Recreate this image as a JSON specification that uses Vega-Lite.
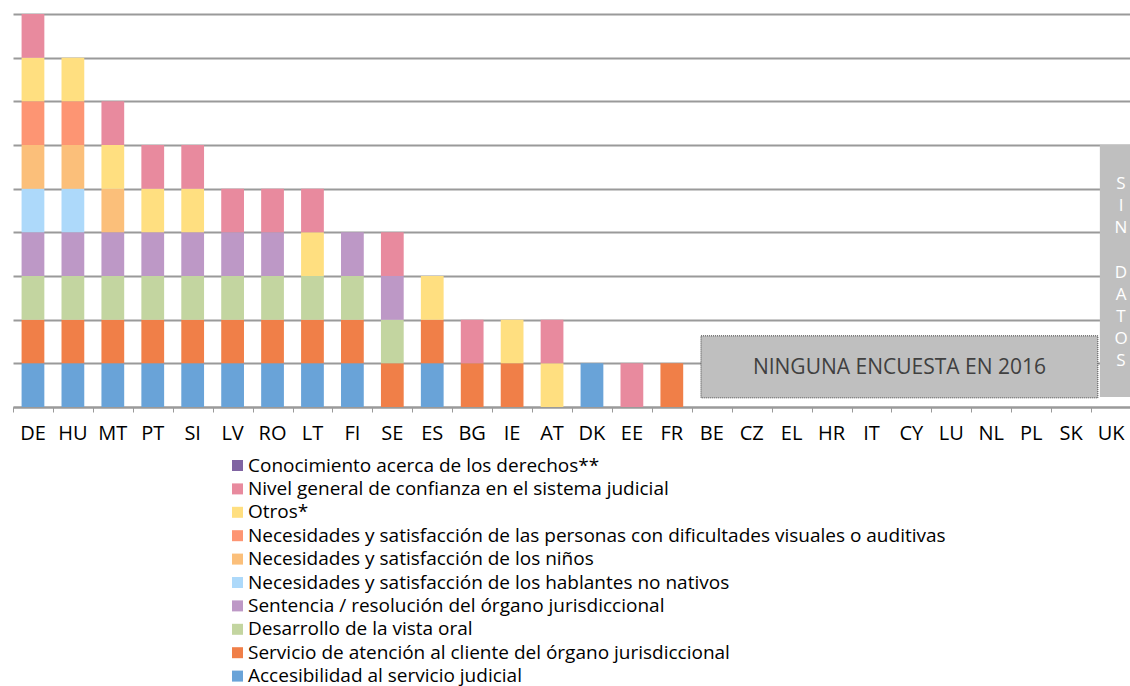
{
  "$schema": "https://vega.github.io/schema/vega-lite/v6.json",
  "width": 1118,
  "height": 393,
  "padding": {"left": 12, "top": 14, "right": 0, "bottom": 0},
  "background": "white",
  "config": {"view": {"stroke": null}, "font": "Open Sans"},
  "datasets": {
    "cats": [
      {"code": "A", "name": "Accesibilidad al servicio judicial", "k": 1},
      {"code": "S", "name": "Servicio de atención al cliente del órgano jurisdiccional", "k": 2},
      {"code": "D", "name": "Desarrollo de la vista oral", "k": 3},
      {"code": "T", "name": "Sentencia / resolución del órgano jurisdiccional", "k": 4},
      {"code": "H", "name": "Necesidades y satisfacción de los hablantes no nativos", "k": 5},
      {"code": "N", "name": "Necesidades y satisfacción de los niños", "k": 6},
      {"code": "V", "name": "Necesidades y satisfacción de las personas con dificultades visuales o auditivas", "k": 7},
      {"code": "O", "name": "Otros*", "k": 8},
      {"code": "G", "name": "Nivel general de confianza en el sistema judicial", "k": 9},
      {"code": "C", "name": "Conocimiento acerca de los derechos**", "k": 10}
    ],
    "bars": [
      {"c": "DE", "cat": "A", "v": 1}, {"c": "DE", "cat": "S", "v": 1}, {"c": "DE", "cat": "D", "v": 1}, {"c": "DE", "cat": "T", "v": 1}, {"c": "DE", "cat": "H", "v": 1}, {"c": "DE", "cat": "N", "v": 1}, {"c": "DE", "cat": "V", "v": 1}, {"c": "DE", "cat": "O", "v": 1}, {"c": "DE", "cat": "G", "v": 1},
      {"c": "HU", "cat": "A", "v": 1}, {"c": "HU", "cat": "S", "v": 1}, {"c": "HU", "cat": "D", "v": 1}, {"c": "HU", "cat": "T", "v": 1}, {"c": "HU", "cat": "H", "v": 1}, {"c": "HU", "cat": "N", "v": 1}, {"c": "HU", "cat": "V", "v": 1}, {"c": "HU", "cat": "O", "v": 1},
      {"c": "MT", "cat": "A", "v": 1}, {"c": "MT", "cat": "S", "v": 1}, {"c": "MT", "cat": "D", "v": 1}, {"c": "MT", "cat": "T", "v": 1}, {"c": "MT", "cat": "N", "v": 1}, {"c": "MT", "cat": "O", "v": 1}, {"c": "MT", "cat": "G", "v": 1},
      {"c": "PT", "cat": "A", "v": 1}, {"c": "PT", "cat": "S", "v": 1}, {"c": "PT", "cat": "D", "v": 1}, {"c": "PT", "cat": "T", "v": 1}, {"c": "PT", "cat": "O", "v": 1}, {"c": "PT", "cat": "G", "v": 1},
      {"c": "SI", "cat": "A", "v": 1}, {"c": "SI", "cat": "S", "v": 1}, {"c": "SI", "cat": "D", "v": 1}, {"c": "SI", "cat": "T", "v": 1}, {"c": "SI", "cat": "O", "v": 1}, {"c": "SI", "cat": "G", "v": 1},
      {"c": "LV", "cat": "A", "v": 1}, {"c": "LV", "cat": "S", "v": 1}, {"c": "LV", "cat": "D", "v": 1}, {"c": "LV", "cat": "T", "v": 1}, {"c": "LV", "cat": "G", "v": 1},
      {"c": "RO", "cat": "A", "v": 1}, {"c": "RO", "cat": "S", "v": 1}, {"c": "RO", "cat": "D", "v": 1}, {"c": "RO", "cat": "T", "v": 1}, {"c": "RO", "cat": "G", "v": 1},
      {"c": "LT", "cat": "A", "v": 1}, {"c": "LT", "cat": "S", "v": 1}, {"c": "LT", "cat": "D", "v": 1}, {"c": "LT", "cat": "O", "v": 1}, {"c": "LT", "cat": "G", "v": 1},
      {"c": "FI", "cat": "A", "v": 1}, {"c": "FI", "cat": "S", "v": 1}, {"c": "FI", "cat": "D", "v": 1}, {"c": "FI", "cat": "T", "v": 1},
      {"c": "SE", "cat": "S", "v": 1}, {"c": "SE", "cat": "D", "v": 1}, {"c": "SE", "cat": "T", "v": 1}, {"c": "SE", "cat": "G", "v": 1},
      {"c": "ES", "cat": "A", "v": 1}, {"c": "ES", "cat": "S", "v": 1}, {"c": "ES", "cat": "O", "v": 1},
      {"c": "BG", "cat": "S", "v": 1}, {"c": "BG", "cat": "G", "v": 1},
      {"c": "IE", "cat": "S", "v": 1}, {"c": "IE", "cat": "O", "v": 1},
      {"c": "AT", "cat": "O", "v": 1}, {"c": "AT", "cat": "G", "v": 1},
      {"c": "DK", "cat": "A", "v": 1},
      {"c": "EE", "cat": "G", "v": 1},
      {"c": "FR", "cat": "S", "v": 1}
    ],
    "nosurvey": [
      {"x1": 17.23, "x2": 27.17, "y1": 0.21, "y2": 1.63, "xm": 22.2, "ym": 0.92, "label": "NINGUNA ENCUESTA EN 2016"}
    ],
    "nodata": [
      {"x1": 27.22, "x2": 28, "y1": 0.23, "y2": 6}
    ],
    "nodatatext": [
      {"xm": 27.75, "ym": 5.11, "label": "S\nI\nN"},
      {"xm": 27.75, "ym": 3.075, "label": "D\nA\nT\nO\nS"}
    ]
  },
  "resolve": {"scale": {"x": "independent"}, "axis": {"x": "independent"}},
  "layer": [
    {
      "data": {"name": "bars"},
      "transform": [
        {"lookup": "cat", "from": {"data": {"name": "cats"}, "key": "code", "fields": ["name", "k"]}}
      ],
      "mark": {"type": "bar"},
      "encoding": {
        "x": {
          "field": "c", "type": "nominal",
          "scale": {
            "domain": ["DE","HU","MT","PT","SI","LV","RO","LT","FI","SE","ES","BG","IE","AT","DK","EE","FR","BE","CZ","EL","HR","IT","CY","LU","NL","PL","SK","UK"],
            "paddingInner": 0.43, "paddingOuter": 0.215
          },
          "axis": {"title": null, "orient": "bottom", "ticks": false, "domain": false, "labelAngle": 0, "labelFontSize": 20, "labelColor": "#000000", "labelPadding": 16, "labelFont": "Open Sans"}
        },
        "y": {
          "field": "v", "type": "quantitative", "aggregate": "sum", "stack": "zero",
          "scale": {"domain": [0, 9], "nice": false},
          "axis": {"title": null, "values": [0,1,2,3,4,5,6,7,8,9], "labels": false, "ticks": false, "domain": false, "grid": true, "gridColor": "#9a9a9a", "gridWidth": 2}
        },
        "color": {
          "field": "name", "type": "nominal",
          "scale": {
            "domain": [
              "Conocimiento acerca de los derechos**",
              "Nivel general de confianza en el sistema judicial",
              "Otros*",
              "Necesidades y satisfacción de las personas con dificultades visuales o auditivas",
              "Necesidades y satisfacción de los niños",
              "Necesidades y satisfacción de los hablantes no nativos",
              "Sentencia / resolución del órgano jurisdiccional",
              "Desarrollo de la vista oral",
              "Servicio de atención al cliente del órgano jurisdiccional",
              "Accesibilidad al servicio judicial"
            ],
            "range": ["#8064A2", "#E88A9E", "#FFDF80", "#FD9573", "#FBBF7A", "#ADD9FA", "#BD98C6", "#C3D5A0", "#F07F48", "#69A3D8"]
          },
          "legend": {
            "title": null, "orient": "none", "legendX": 215, "legendY": 442, "direction": "vertical", "columns": 1,
            "symbolType": "square", "symbolSize": 121, "symbolStrokeWidth": 0,
            "labelFontSize": 19, "labelFont": "Open Sans", "labelColor": "#000000", "labelOffset": 1, "rowPadding": 3.4, "labelLimit": 1000
          }
        },
        "order": {"field": "k", "type": "quantitative", "sort": "ascending"}
      }
    },
    {
      "data": {"name": "nosurvey"},
      "mark": {"type": "rect", "fill": "#BFBFBF", "stroke": "#404040", "strokeWidth": 1, "strokeDash": [1, 1]},
      "encoding": {
        "x": {"field": "x1", "type": "quantitative", "scale": {"domain": [0, 28], "nice": false, "zero": false},
          "axis": {"title": null, "orient": "bottom", "values": [0,1,2,3,4,5,6,7,8,9,10,11,12,13,14,15,16,17,18,19,20,21,22,23,24,25,26,27,28], "labels": false, "ticks": true, "tickSize": 5, "tickColor": "#9a9a9a", "tickWidth": 1, "domain": true, "domainColor": "#9a9a9a", "domainWidth": 2, "grid": false}},
        "x2": {"field": "x2"},
        "y": {"field": "y1", "type": "quantitative"},
        "y2": {"field": "y2"}
      }
    },
    {
      "data": {"name": "nosurvey"},
      "mark": {"type": "text", "fontSize": 21, "color": "#404040", "font": "Open Sans", "align": "center", "baseline": "middle", "dy": 1},
      "encoding": {
        "x": {"field": "xm", "type": "quantitative", "scale": {"domain": [0, 28], "nice": false, "zero": false}, "axis": null},
        "y": {"field": "ym", "type": "quantitative"},
        "text": {"field": "label"}
      }
    },
    {
      "data": {"name": "nodata"},
      "mark": {"type": "rect", "fill": "#BFBFBF"},
      "encoding": {
        "x": {"field": "x1", "type": "quantitative", "scale": {"domain": [0, 28], "nice": false, "zero": false}, "axis": null},
        "x2": {"field": "x2"},
        "y": {"field": "y1", "type": "quantitative"},
        "y2": {"field": "y2"}
      }
    },
    {
      "data": {"name": "nodatatext"},
      "mark": {"type": "text", "fontSize": 17, "color": "#ffffff", "font": "Open Sans", "align": "center", "baseline": "middle", "lineBreak": "\n", "lineHeight": 22.1},
      "encoding": {
        "x": {"field": "xm", "type": "quantitative", "scale": {"domain": [0, 28], "nice": false, "zero": false}, "axis": null},
        "y": {"field": "ym", "type": "quantitative"},
        "text": {"field": "label"}
      }
    }
  ]
}
